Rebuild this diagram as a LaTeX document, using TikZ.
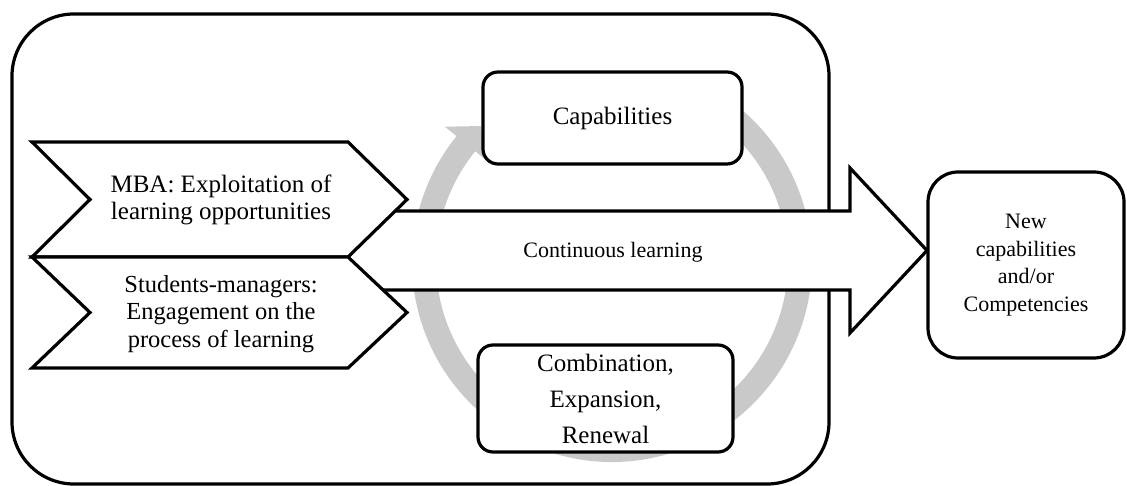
\documentclass[tikz,border=0pt]{standalone}
\usepackage{fontspec}
\setmainfont{Liberation Serif}
\newcommand\fchev{\fontsize{25}{26.5}\selectfont}
\newcommand\fstu{\fontsize{24.5}{27.5}\selectfont}
\newcommand\fcap{\fontsize{25}{30}\selectfont}
\newcommand\fcomb{\fontsize{25}{36}\selectfont}
\newcommand\fcont{\fontsize{22}{26}\selectfont}
\newcommand\fnew{\fontsize{22}{27.5}\selectfont}
\tikzset{
  outline/.style={draw=black, line width=3.2pt, line join=miter},
  shapefill/.style={outline, fill=white},
  rbox/.style={draw=black, line width=3.2pt, fill=white, rounded corners=#1, inner sep=0pt, align=center},
  ringfill/.style={fill=black!21},
  txt/.style={align=center, inner sep=0pt}
}
\begin{document}
\begin{tikzpicture}[x=1pt,y=-1pt]
\useasboundingbox (0,0) rectangle (1127,486);
% outer frame
\draw[outline, rounded corners=62pt] (12,14) rectangle (829,484);
% grey cycle arrow
\begin{scope}[shift={(612,262)},y=1pt]
  \fill[ringfill] (60:200) arc[start angle=60,end angle=-219,radius=200]
     -- (-219:215) -- (-226:189) -- (-219:163) -- (-219:176)
     arc[start angle=-219,end angle=60,radius=176] -- cycle;
\end{scope}
% big arrow
\coordinate (tip) at (927,250.5);
\draw[shapefill] (150,211) -- (850,211) -- (850,168) -- (tip) -- (850,333)
   -- (850,290) -- (150,290) -- cycle;
% chevrons
\draw[shapefill] (32,142) -- (348,142) -- (407,199.5) -- (348,257) -- (32,257) -- (90,199.5) -- cycle;
\draw[shapefill] (32,257) -- (348,257) -- (407,312.5) -- (348,368) -- (32,368) -- (90,312.5) -- cycle;
\node[txt, font=\fchev] (mba) at (221,200) {MBA: Exploitation of\\learning opportunities};
\node[txt, font=\fstu] (stu) at (221,314) {Students-managers:\\Engagement on the\\process of learning};
% boxes
\node[rbox=15pt, minimum width=259pt, minimum height=92pt, font=\fcap] (cap) at (612.5,118) {Capabilities};
\node[rbox=15pt, minimum width=255pt, minimum height=107pt, font=\fcomb] (comb) at (605.5,398.5) {Combination,\\Expansion,\\Renewal};
\node[txt, font=\fcont] (cont) at (613,252) {Continuous learning};
\node[rbox=30pt, minimum width=196pt, minimum height=186pt, font=\fnew] (new) at (1026,265) {New\\capabilities\\and/or\\Competencies};
\end{tikzpicture}
\end{document}
